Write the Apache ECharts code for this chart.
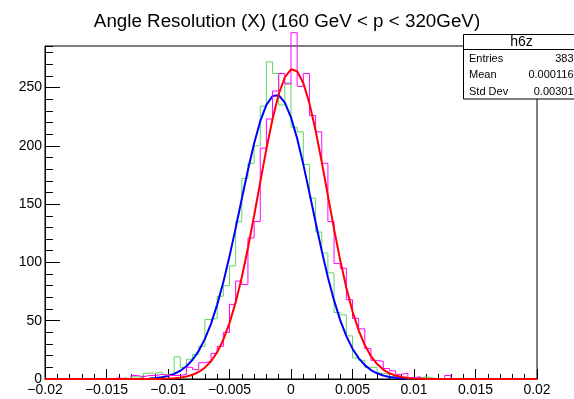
<!DOCTYPE html>
<html>
<head>
<meta charset="utf-8">
<script src="https://cdn.jsdelivr.net/npm/echarts@6/dist/echarts.min.js"></script>
<style>
html,body{margin:0;padding:0;background:#fff;}
#c{width:574px;height:399px;}
</style>
</head>
<body>
<div id="c"></div>
<script>
// ---- data ----
const titleText = 'Angle Resolution (X) (160 GeV < p < 320GeV)';
const xMin = -0.02, xMax = 0.02, binWidth = 0.0005;
const yMax = 285.6;
const yMajorTicks = [0, 50, 100, 150, 200, 250];
// green histogram (80 bins of 0.0005 from -0.02)
const greenCounts = [
  0,0,0,0,0,0,0,0,0,0,0,0,
  1,0,2,1,5,5,6,4,4,19,10,17,21,28,51,52,71,80,97,135,172,185,200,234,272,262,235,254,
  216,212,184,155,126,108,91,57,55,37,18,16,10,10,5,4,2,1,0,0,1,2,1,
  0,0,0,0,0,0,0,0,0,0,0,0,0,0,0,0,0
];
// magenta histogram
const magentaCounts = [
  0,0,0,0,0,0,0,0,0,0,0,
  1,0,0,3,2,3,3,4,3,3,3,4,10,8,14,15,22,28,40,64,84,81,121,135,198,223,247,262,253,
  297,251,262,226,212,185,135,99,95,68,52,43,26,16,15,9,7,4,5,1,2,0,0,0,0,3,
  0,0,0,0,0,0,0,0,0,0,0,0,0,0
];
// blue fit curve, sampled every 0.0005 starting at -0.0115
const blueFitStart = -0.0115, fitStep = 0.0005;
const blueFit = [0.51,0.91,1.58,2.68,4.41,7.06,10.95,16.5,24.2,34.4,47.5,63.8,83.1,105.2,129.4,154.6,179.3,202.0,221.1,235.1,242.7,243.4,237.1,224.4,206.2,184.1,159.6,134.4,109.9,87.3,67.4,50.5,36.8,26.0,17.9,11.9,7.7,4.9,3.0,1.8,1.0,0.57,0.31];
// red fit curve, sampled every 0.0005 starting at -0.02
const redFitStart = -0.02;
const redFit = [0,0,0,0,0,0,0,0,0,0,0,0,0,0,0,0,
  0.02,0.04,0.09,0.17,0.34,0.64,1.18,2.10,3.62,6.04,9.75,15.2,23.0,33.7,47.9,65.7,87.3,112.4,140.0,168.9,197.3,223.0,244.2,258.8,265.6,263.9,253.8,236.4,213.2,186.1,157.3,128.7,102.0,78.2,58.1,41.8,29.1,19.6,12.8,8.1,4.9,2.92,1.68,0.93,0.50,0.26,0.13,0.06,0.03,
  0,0,0,0,0,0,0,0,0,0,0,0,0,0,0,0];
const statsName = 'h6z';
const statsLabels = ['Entries', 'Mean', 'Std Dev'];
const statsValues = ['383', '0.000116', '0.00301'];

// ---- build ----
function histData(counts){
  const d = counts.map((v,k)=>[+(xMin + k*binWidth).toFixed(6), v]);
  d.push([xMax, counts[counts.length-1]]);
  return d;
}
function curveData(start, vals){
  return vals.map((v,i)=>[+(start + i*fitStep).toFixed(6), v]);
}
const FONT = 'Liberation Sans, Arial, Helvetica, sans-serif';
const chart = echarts.init(document.getElementById('c'), null, {renderer:'canvas'});
const statsGraphics = [
  {type:'rect', shape:{x:463.5, y:34.5, width:130, height:64.5}, style:{fill:'#fff', stroke:'#000', lineWidth:1}, z:100},
  {type:'line', shape:{x1:463.5, y1:49.5, x2:600, y2:49.5}, style:{stroke:'#000', lineWidth:1}, z:101},
  {type:'text', x:521.5, y:42, style:{text:statsName, font:'14px '+FONT, fill:'#000', textAlign:'center', textVerticalAlign:'middle'}, z:102}
];
statsLabels.forEach((s,i)=>{
  statsGraphics.push({type:'text', x:469, y:58.5+16.5*i, style:{text:s, font:'11px '+FONT, fill:'#000', textAlign:'left', textVerticalAlign:'middle'}, z:102});
  statsGraphics.push({type:'text', x:573.5, y:58.5+16.5*i, style:{text:statsValues[i], font:'11px '+FONT, fill:'#000', textAlign:'right', textVerticalAlign:'middle'}, z:102});
});
const fmtX = v => parseFloat(v.toFixed(4)).toString().replace('-', '\u2212');
chart.setOption({
  animation:false,
  backgroundColor:'#fff',
  title:{text:titleText, left:'center', top:7, textStyle:{fontFamily:FONT, fontSize:18.8, fontWeight:'normal', color:'#000'}},
  grid:{left:45, top:46, width:492, height:333, show:true, borderColor:'#000', borderWidth:1, backgroundColor:'transparent'},
  xAxis:[{
    type:'value', min:xMin, max:xMax, interval:0.005,
    axisLine:{show:true, onZero:false, lineStyle:{color:'#000', width:1}},
    axisTick:{show:true, inside:true, length:10, lineStyle:{color:'#000'}},
    minorTick:{show:true, splitNumber:5, length:5, lineStyle:{color:'#000'}},
    splitLine:{show:false}, minorSplitLine:{show:false},
    axisLabel:{formatter:fmtX, fontFamily:FONT, fontSize:14, color:'#000', margin:4}
  }],
  yAxis:[{
    type:'value', min:0, max:yMax, interval:50, position:'left',
    axisLine:{show:true, onZero:false, lineStyle:{color:'#000', width:1}},
    axisTick:{show:true, inside:true, length:15, lineStyle:{color:'#000'}},
    splitLine:{show:false},
    axisLabel:{fontFamily:FONT, fontSize:14, color:'#000', margin:3, showMaxLabel:false,
      formatter: v => yMajorTicks.indexOf(v) >= 0 ? String(v) : ''}
  },{
    type:'value', min:0, max:yMax, interval:10, position:'left', offset:0,
    axisLine:{show:false, onZero:false},
    axisTick:{show:true, inside:true, length:8, lineStyle:{color:'#000'}},
    splitLine:{show:false},
    axisLabel:{show:false}
  }],
  series:[
    {name:'green', type:'line', step:'end', symbol:'none', data:histData(greenCounts), lineStyle:{color:'#5fd85f', width:1}, z:2},
    {name:'blueFit', type:'line', symbol:'none', data:curveData(blueFitStart, blueFit), lineStyle:{color:'#0000ff', width:2}, z:2},
    {name:'magenta', type:'line', step:'end', symbol:'none', clip:false, data:histData(magentaCounts), lineStyle:{color:'#ff00ff', width:1}, z:2},
    {name:'redFit', type:'line', symbol:'none', data:curveData(redFitStart, redFit), lineStyle:{color:'#ff0000', width:2}, z:2}
  ],
  graphic: statsGraphics
});
</script>
</body>
</html>
